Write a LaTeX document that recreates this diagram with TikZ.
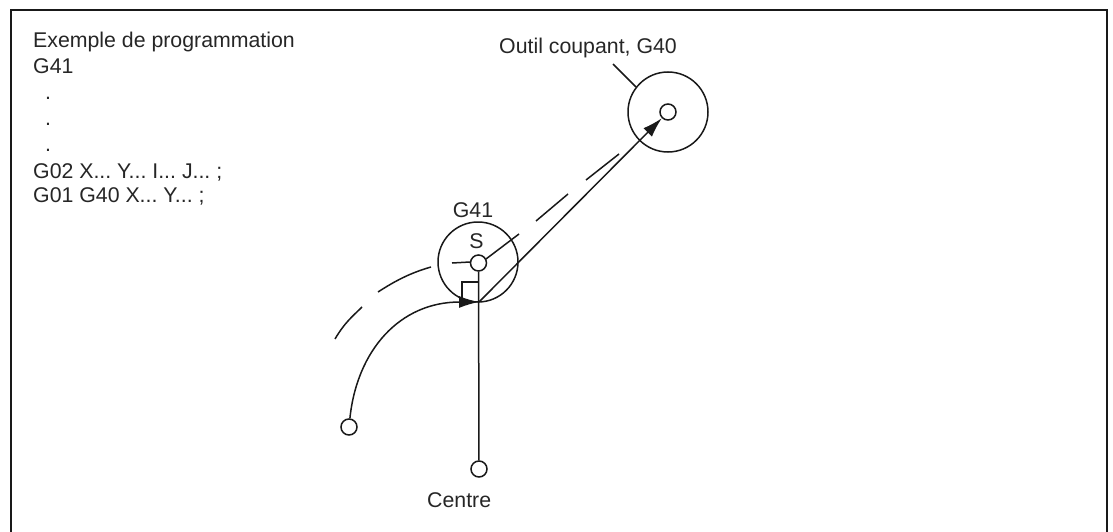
\documentclass[tikz,border=0pt]{standalone}
\usepackage{fontspec}
\setmainfont{Liberation Sans}
\usetikzlibrary{arrows.meta}
\tikzset{
  x=1pt,y=-1pt,
  line/.style={line width=1.5pt,black!90},
  lbl/.style={font=\fontsize{21.3}{25}\selectfont\frenchspacing,text=black!85,inner sep=0pt},
  pt/.style={circle,draw,line width=1.5pt,black!90,minimum size=16pt,inner sep=0pt,fill=white},
  big/.style={circle,draw,line width=1.5pt,black!90,minimum size=80pt,inner sep=0pt},
  tip/.style={-{Latex[length=20pt,width=12pt]}}
}
\begin{document}
\begin{tikzpicture}
\useasboundingbox (0,0) rectangle (1113,532);
\draw[line width=2pt,black!90] (11,532) -- (11,10) -- (1106.5,10) -- (1106.5,532);
\node[big] (bs) at (478,262) {};
\node[big] (bt) at (668,112) {};
\node[pt] (s) at (478.5,263) {};
\node[pt] (t) at (668,112) {};
\node[pt] (a) at (349,427) {};
\node[pt] (c) at (479,469) {};
\coordinate (p) at (479,302);
\draw[line] (s) -- (c);
\draw[line] (462,302) -- (462,282) -- (479,282);
\draw[line,tip] (a) .. controls (357,350) and (400,302) .. (p);
\draw[line,tip] (p) -- (t);
\draw[line] (486,259) -- (519,234);
\draw[line] (536,221) -- (568,194);
\draw[line] (586,180) -- (619,154);
\draw[line] (335,339) .. controls (345,322) and (353,316) .. (362,307);
\draw[line] (378,292) .. controls (395,281) and (410,273) .. (431,267);
\draw[line] (452,263) -- (470,262);
\draw[line] (613,64) -- (636,87);
\node[lbl,anchor=base west] (t1) at (33,48) {Exemple de programmation};
\node[lbl,anchor=base west] (t2) at (33,74) {G41};
\node[lbl,anchor=base] (d1) at (48,100) {.};
\node[lbl,anchor=base] (d2) at (48,126) {.};
\node[lbl,anchor=base] (d3) at (48,151) {.};
\node[lbl,anchor=base west] (t3) at (33,178) {G02 X... Y... I... J... ;};
\node[lbl,anchor=base west] (t4) at (33,202) {G01 G40 X... Y... ;};
\node[lbl,anchor=base west] (o) at (499,54) {Outil coupant, G40};
\node[lbl,anchor=base] (g) at (473,217) {G41};
\node[lbl,anchor=base] (ss) at (476.5,248) {S};
\node[lbl,anchor=base west] (ce) at (427,507) {Centre};
\end{tikzpicture}
\end{document}
